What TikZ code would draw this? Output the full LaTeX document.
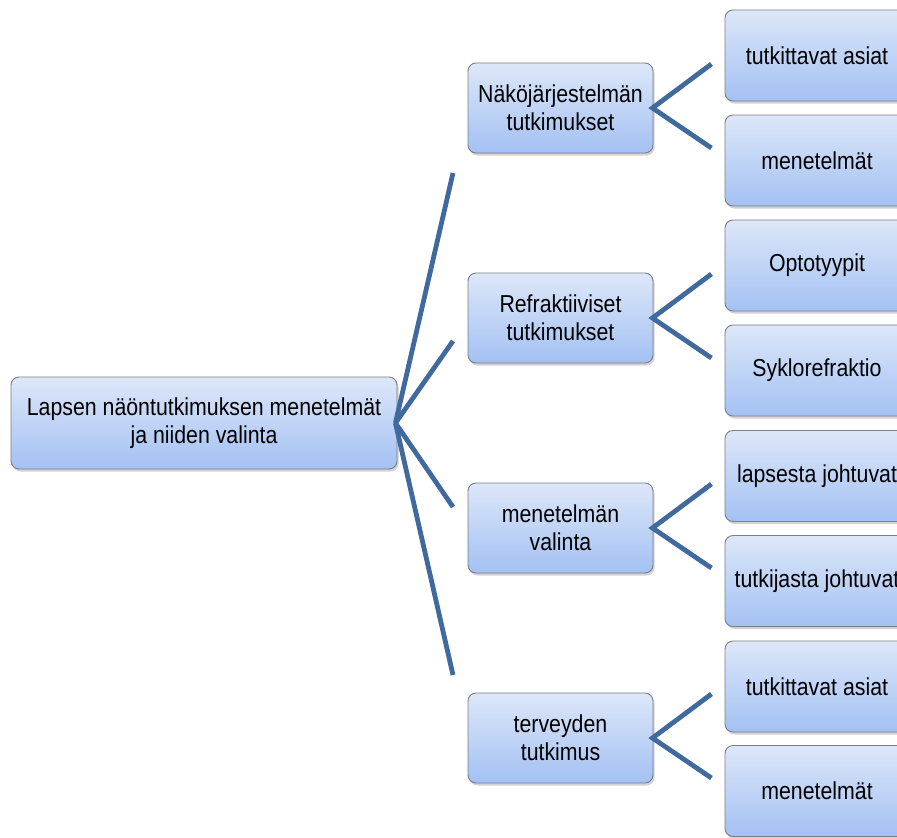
\documentclass[tikz,border=0pt]{standalone}
\usepackage{fontspec}
\setmainfont[FakeStretch=0.87]{Liberation Sans}
\usetikzlibrary{shadows}
\definecolor{linkblue}{HTML}{40699E}
\definecolor{boxtop}{HTML}{DDE7F9}
\definecolor{boxbot}{HTML}{A3C1F3}
\definecolor{boxedge}{HTML}{7A7F88}
\tikzset{
  x=1pt, y=-1pt,
  boxnode/.style={draw=boxedge, line width=0.9pt, rounded corners=8pt,
    top color=boxtop, bottom color=boxbot,
    drop shadow={opacity=0.35, shadow xshift=1.5pt, shadow yshift=-2.5pt},
    align=center, inner sep=2pt,
    font=\fontsize{24.5}{28}\selectfont},
  rootbox/.style={boxnode, minimum width=386pt, minimum height=92pt},
  midbox/.style={boxnode, minimum width=185pt, minimum height=90pt},
  leafbox/.style={boxnode, minimum width=184pt, minimum height=91pt},
  link/.style={draw=linkblue, line width=4.8pt}
}
\begin{document}
\begin{tikzpicture}
\clip (0,0) rectangle (897,838);
\fill[white] (0,0) rectangle (897,838);

\node[rootbox] (root) at (204,423) {Lapsen näöntutkimuksen menetelmät\\ja niiden valinta};

\node[midbox] (m1) at (560.5,108) {Näköjärjestelmän\\tutkimukset};
\node[midbox] (m2) at (560.5,318) {Refraktiiviset\\tutkimukset};
\node[midbox] (m3) at (560.5,528) {menetelmän\\valinta};
\node[midbox] (m4) at (560.5,738) {terveyden\\tutkimus};

\node[leafbox] (l1) at (817,55.5) {tutkittavat asiat};
\node[leafbox] (l2) at (817,160.5) {menetelmät};
\node[leafbox] (l3) at (817,265.5) {Optotyypit};
\node[leafbox] (l4) at (817,370.5) {Syklorefraktio};
\node[leafbox] (l5) at (817,476) {lapsesta johtuvat};
\node[leafbox] (l6) at (817,581) {tutkijasta johtuvat};
\node[leafbox] (l7) at (817,686.5) {tutkittavat asiat};
\node[leafbox] (l8) at (817,791) {menetelmät};

\coordinate (r1) at (453,173);
\coordinate (r2) at (453,341);
\coordinate (r3) at (453,507);
\coordinate (r4) at (453,675);
\foreach \c in {r1,r2,r3,r4}{\draw[link] ([xshift=-2pt]root.east) -- (\c);}

\foreach \m in {1,2,3,4}{
  \coordinate (u\m) at ([xshift=58pt,yshift=-40pt]m\m.east);
  \coordinate (d\m) at ([xshift=58pt,yshift=44pt]m\m.east);
  \draw[link] (u\m) -- ([xshift=-1pt]m\m.east) -- (d\m);
}
\end{tikzpicture}
\end{document}
